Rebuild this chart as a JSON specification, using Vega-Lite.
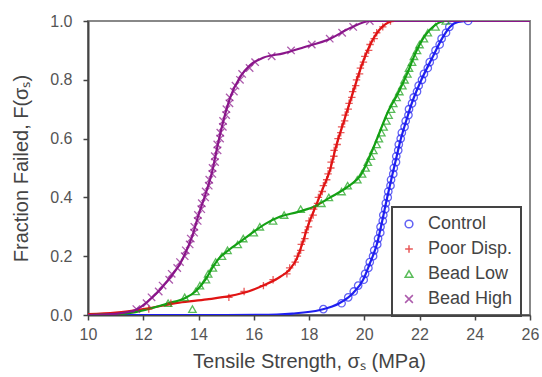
{
  "$schema": "https://vega.github.io/schema/vega-lite/v6.json",
  "width": 442,
  "height": 294,
  "autosize": {"type": "none"},
  "padding": {"left": 88, "top": 21, "right": 12, "bottom": 62},
  "background": "white",
  "config": {
    "font": "Liberation Sans",
    "view": {"stroke": "#888", "strokeWidth": 2},
    "axis": {"domainColor": "#444", "domainWidth": 2, "tickColor": "#444", "tickWidth": 1.5, "tickSize": 5, "labelFontSize": 16, "labelColor": "#555", "labelFlush": false, "titleFontSize": 20, "titleFontWeight": "normal", "titleColor": "#444", "grid": false},
    "legend": {"orient": "none", "legendX": 304, "legendY": 186, "strokeColor": "#444", "strokeWidth": 2, "padding": 8, "labelFontSize": 18, "labelColor": "#444", "symbolSize": 60, "symbolStrokeWidth": 1.5, "rowPadding": 7, "labelOffset": 10}
  },
  "datasets": {
    "curves": [
      {"s": "Control", "x": 10, "F": 0}, {"s": "Control", "x": 15, "F": 0}, {"s": "Control", "x": 16.2, "F": 0.0005}, {"s": "Control", "x": 17.4, "F": 0.005}, {"s": "Control", "x": 18.4, "F": 0.017}, {"s": "Control", "x": 19.1, "F": 0.04}, {"s": "Control", "x": 19.6, "F": 0.075}, {"s": "Control", "x": 19.96, "F": 0.12}, {"s": "Control", "x": 20.21, "F": 0.177}, {"s": "Control", "x": 20.47, "F": 0.245}, {"s": "Control", "x": 20.65, "F": 0.32}, {"s": "Control", "x": 20.83, "F": 0.4}, {"s": "Control", "x": 21.0, "F": 0.47}, {"s": "Control", "x": 21.15, "F": 0.53}, {"s": "Control", "x": 21.3, "F": 0.59}, {"s": "Control", "x": 21.55, "F": 0.67}, {"s": "Control", "x": 21.7, "F": 0.715}, {"s": "Control", "x": 22.02, "F": 0.79}, {"s": "Control", "x": 22.49, "F": 0.88}, {"s": "Control", "x": 22.85, "F": 0.946}, {"s": "Control", "x": 23.1, "F": 0.98}, {"s": "Control", "x": 23.4, "F": 0.997}, {"s": "Control", "x": 23.8, "F": 1.0}, {"s": "Control", "x": 26, "F": 1.0},
      {"s": "Poor Disp.", "x": 10, "F": 0.003}, {"s": "Poor Disp.", "x": 11, "F": 0.008}, {"s": "Poor Disp.", "x": 12, "F": 0.02}, {"s": "Poor Disp.", "x": 13.3, "F": 0.042}, {"s": "Poor Disp.", "x": 14.3, "F": 0.053}, {"s": "Poor Disp.", "x": 15.15, "F": 0.065}, {"s": "Poor Disp.", "x": 15.8, "F": 0.08}, {"s": "Poor Disp.", "x": 16.34, "F": 0.1}, {"s": "Poor Disp.", "x": 16.96, "F": 0.13}, {"s": "Poor Disp.", "x": 17.3, "F": 0.155}, {"s": "Poor Disp.", "x": 17.55, "F": 0.19}, {"s": "Poor Disp.", "x": 17.75, "F": 0.24}, {"s": "Poor Disp.", "x": 17.95, "F": 0.3}, {"s": "Poor Disp.", "x": 18.2, "F": 0.36}, {"s": "Poor Disp.", "x": 18.5, "F": 0.43}, {"s": "Poor Disp.", "x": 18.75, "F": 0.49}, {"s": "Poor Disp.", "x": 19.0, "F": 0.58}, {"s": "Poor Disp.", "x": 19.3, "F": 0.67}, {"s": "Poor Disp.", "x": 19.6, "F": 0.76}, {"s": "Poor Disp.", "x": 19.95, "F": 0.86}, {"s": "Poor Disp.", "x": 20.3, "F": 0.935}, {"s": "Poor Disp.", "x": 20.65, "F": 0.98}, {"s": "Poor Disp.", "x": 21.1, "F": 1.0}, {"s": "Poor Disp.", "x": 26, "F": 1.0},
      {"s": "Bead Low", "x": 10, "F": 0}, {"s": "Bead Low", "x": 11, "F": 0.002}, {"s": "Bead Low", "x": 11.72, "F": 0.01}, {"s": "Bead Low", "x": 12.91, "F": 0.04}, {"s": "Bead Low", "x": 13.52, "F": 0.058}, {"s": "Bead Low", "x": 13.89, "F": 0.08}, {"s": "Bead Low", "x": 14.25, "F": 0.12}, {"s": "Bead Low", "x": 14.5, "F": 0.16}, {"s": "Bead Low", "x": 14.72, "F": 0.19}, {"s": "Bead Low", "x": 15.08, "F": 0.22}, {"s": "Bead Low", "x": 15.59, "F": 0.255}, {"s": "Bead Low", "x": 15.95, "F": 0.28}, {"s": "Bead Low", "x": 16.42, "F": 0.31}, {"s": "Bead Low", "x": 16.96, "F": 0.335}, {"s": "Bead Low", "x": 17.58, "F": 0.35}, {"s": "Bead Low", "x": 18.15, "F": 0.367}, {"s": "Bead Low", "x": 18.77, "F": 0.4}, {"s": "Bead Low", "x": 19.38, "F": 0.435}, {"s": "Bead Low", "x": 19.9, "F": 0.48}, {"s": "Bead Low", "x": 20.25, "F": 0.55}, {"s": "Bead Low", "x": 20.55, "F": 0.62}, {"s": "Bead Low", "x": 20.85, "F": 0.69}, {"s": "Bead Low", "x": 21.2, "F": 0.75}, {"s": "Bead Low", "x": 21.55, "F": 0.82}, {"s": "Bead Low", "x": 21.85, "F": 0.89}, {"s": "Bead Low", "x": 22.2, "F": 0.95}, {"s": "Bead Low", "x": 22.55, "F": 0.985}, {"s": "Bead Low", "x": 22.95, "F": 1.0}, {"s": "Bead Low", "x": 26, "F": 1.0},
      {"s": "Bead High", "x": 10, "F": 0}, {"s": "Bead High", "x": 11, "F": 0.004}, {"s": "Bead High", "x": 11.72, "F": 0.017}, {"s": "Bead High", "x": 12.33, "F": 0.06}, {"s": "Bead High", "x": 12.91, "F": 0.12}, {"s": "Bead High", "x": 13.42, "F": 0.19}, {"s": "Bead High", "x": 13.78, "F": 0.27}, {"s": "Bead High", "x": 14.0, "F": 0.34}, {"s": "Bead High", "x": 14.25, "F": 0.41}, {"s": "Bead High", "x": 14.5, "F": 0.49}, {"s": "Bead High", "x": 14.7, "F": 0.58}, {"s": "Bead High", "x": 14.9, "F": 0.66}, {"s": "Bead High", "x": 15.15, "F": 0.74}, {"s": "Bead High", "x": 15.51, "F": 0.81}, {"s": "Bead High", "x": 15.87, "F": 0.85}, {"s": "Bead High", "x": 16.34, "F": 0.875}, {"s": "Bead High", "x": 17.07, "F": 0.89}, {"s": "Bead High", "x": 17.79, "F": 0.91}, {"s": "Bead High", "x": 18.77, "F": 0.94}, {"s": "Bead High", "x": 19.49, "F": 0.976}, {"s": "Bead High", "x": 20.22, "F": 1.0}, {"s": "Bead High", "x": 26, "F": 1.0}
    ],
    "points": [
      {"s": "Control", "x": 18.52, "F": 0.02}, {"s": "Control", "x": 19.18, "F": 0.04}, {"s": "Control", "x": 19.42, "F": 0.06}, {"s": "Control", "x": 19.62, "F": 0.08}, {"s": "Control", "x": 19.78, "F": 0.1}, {"s": "Control", "x": 19.98, "F": 0.12}, {"s": "Control", "x": 20.03, "F": 0.14}, {"s": "Control", "x": 20.15, "F": 0.16}, {"s": "Control", "x": 20.2, "F": 0.18}, {"s": "Control", "x": 20.32, "F": 0.2}, {"s": "Control", "x": 20.36, "F": 0.22}, {"s": "Control", "x": 20.47, "F": 0.24}, {"s": "Control", "x": 20.5, "F": 0.26}, {"s": "Control", "x": 20.58, "F": 0.28}, {"s": "Control", "x": 20.59, "F": 0.3}, {"s": "Control", "x": 20.67, "F": 0.32}, {"s": "Control", "x": 20.69, "F": 0.34}, {"s": "Control", "x": 20.76, "F": 0.36}, {"s": "Control", "x": 20.78, "F": 0.38}, {"s": "Control", "x": 20.85, "F": 0.4}, {"s": "Control", "x": 20.87, "F": 0.42}, {"s": "Control", "x": 20.95, "F": 0.44}, {"s": "Control", "x": 20.97, "F": 0.46}, {"s": "Control", "x": 21.05, "F": 0.48}, {"s": "Control", "x": 21.07, "F": 0.5}, {"s": "Control", "x": 21.15, "F": 0.52}, {"s": "Control", "x": 21.16, "F": 0.54}, {"s": "Control", "x": 21.23, "F": 0.56}, {"s": "Control", "x": 21.25, "F": 0.58}, {"s": "Control", "x": 21.32, "F": 0.6}, {"s": "Control", "x": 21.36, "F": 0.62}, {"s": "Control", "x": 21.46, "F": 0.64}, {"s": "Control", "x": 21.5, "F": 0.66}, {"s": "Control", "x": 21.6, "F": 0.68}, {"s": "Control", "x": 21.62, "F": 0.7}, {"s": "Control", "x": 21.73, "F": 0.72}, {"s": "Control", "x": 21.79, "F": 0.74}, {"s": "Control", "x": 21.91, "F": 0.76}, {"s": "Control", "x": 21.97, "F": 0.78}, {"s": "Control", "x": 22.09, "F": 0.8}, {"s": "Control", "x": 22.16, "F": 0.82}, {"s": "Control", "x": 22.3, "F": 0.84}, {"s": "Control", "x": 22.37, "F": 0.86}, {"s": "Control", "x": 22.51, "F": 0.88}, {"s": "Control", "x": 22.58, "F": 0.9}, {"s": "Control", "x": 22.73, "F": 0.92}, {"s": "Control", "x": 22.8, "F": 0.94}, {"s": "Control", "x": 22.96, "F": 0.96}, {"s": "Control", "x": 23.08, "F": 0.98}, {"s": "Control", "x": 23.76, "F": 1.0},
      {"s": "Poor Disp.", "x": 12.2, "F": 0.02}, {"s": "Poor Disp.", "x": 13.0, "F": 0.04}, {"s": "Poor Disp.", "x": 15.1, "F": 0.06}, {"s": "Poor Disp.", "x": 15.65, "F": 0.08}, {"s": "Poor Disp.", "x": 16.35, "F": 0.1}, {"s": "Poor Disp.", "x": 16.7, "F": 0.12}, {"s": "Poor Disp.", "x": 17.2, "F": 0.14}, {"s": "Poor Disp.", "x": 17.3, "F": 0.16}, {"s": "Poor Disp.", "x": 17.5, "F": 0.18}, {"s": "Poor Disp.", "x": 17.58, "F": 0.2}, {"s": "Poor Disp.", "x": 17.7, "F": 0.22}, {"s": "Poor Disp.", "x": 17.72, "F": 0.24}, {"s": "Poor Disp.", "x": 17.85, "F": 0.26}, {"s": "Poor Disp.", "x": 17.86, "F": 0.28}, {"s": "Poor Disp.", "x": 17.98, "F": 0.3}, {"s": "Poor Disp.", "x": 18.0, "F": 0.32}, {"s": "Poor Disp.", "x": 18.15, "F": 0.34}, {"s": "Poor Disp.", "x": 18.17, "F": 0.36}, {"s": "Poor Disp.", "x": 18.31, "F": 0.38}, {"s": "Poor Disp.", "x": 18.34, "F": 0.4}, {"s": "Poor Disp.", "x": 18.48, "F": 0.42}, {"s": "Poor Disp.", "x": 18.52, "F": 0.44}, {"s": "Poor Disp.", "x": 18.64, "F": 0.46}, {"s": "Poor Disp.", "x": 18.69, "F": 0.48}, {"s": "Poor Disp.", "x": 18.79, "F": 0.5}, {"s": "Poor Disp.", "x": 18.8, "F": 0.52}, {"s": "Poor Disp.", "x": 18.9, "F": 0.54}, {"s": "Poor Disp.", "x": 18.91, "F": 0.56}, {"s": "Poor Disp.", "x": 19.02, "F": 0.58}, {"s": "Poor Disp.", "x": 19.05, "F": 0.6}, {"s": "Poor Disp.", "x": 19.15, "F": 0.62}, {"s": "Poor Disp.", "x": 19.18, "F": 0.64}, {"s": "Poor Disp.", "x": 19.29, "F": 0.66}, {"s": "Poor Disp.", "x": 19.31, "F": 0.68}, {"s": "Poor Disp.", "x": 19.42, "F": 0.7}, {"s": "Poor Disp.", "x": 19.45, "F": 0.72}, {"s": "Poor Disp.", "x": 19.55, "F": 0.74}, {"s": "Poor Disp.", "x": 19.58, "F": 0.76}, {"s": "Poor Disp.", "x": 19.69, "F": 0.78}, {"s": "Poor Disp.", "x": 19.72, "F": 0.8}, {"s": "Poor Disp.", "x": 19.83, "F": 0.82}, {"s": "Poor Disp.", "x": 19.86, "F": 0.84}, {"s": "Poor Disp.", "x": 19.97, "F": 0.86}, {"s": "Poor Disp.", "x": 20.02, "F": 0.88}, {"s": "Poor Disp.", "x": 20.16, "F": 0.9}, {"s": "Poor Disp.", "x": 20.21, "F": 0.92}, {"s": "Poor Disp.", "x": 20.36, "F": 0.94}, {"s": "Poor Disp.", "x": 20.45, "F": 0.96}, {"s": "Poor Disp.", "x": 20.67, "F": 0.98}, {"s": "Poor Disp.", "x": 20.95, "F": 1.0},
      {"s": "Bead Low", "x": 13.78, "F": 0.02}, {"s": "Bead Low", "x": 12.9, "F": 0.04}, {"s": "Bead Low", "x": 13.5, "F": 0.06}, {"s": "Bead Low", "x": 13.9, "F": 0.08}, {"s": "Bead Low", "x": 14.05, "F": 0.1}, {"s": "Bead Low", "x": 14.27, "F": 0.12}, {"s": "Bead Low", "x": 14.35, "F": 0.14}, {"s": "Bead Low", "x": 14.52, "F": 0.16}, {"s": "Bead Low", "x": 14.62, "F": 0.18}, {"s": "Bead Low", "x": 14.85, "F": 0.2}, {"s": "Bead Low", "x": 15.05, "F": 0.22}, {"s": "Bead Low", "x": 15.42, "F": 0.24}, {"s": "Bead Low", "x": 15.62, "F": 0.26}, {"s": "Bead Low", "x": 16.0, "F": 0.28}, {"s": "Bead Low", "x": 16.22, "F": 0.3}, {"s": "Bead Low", "x": 16.7, "F": 0.32}, {"s": "Bead Low", "x": 17.1, "F": 0.34}, {"s": "Bead Low", "x": 17.7, "F": 0.36}, {"s": "Bead Low", "x": 18.45, "F": 0.38}, {"s": "Bead Low", "x": 18.72, "F": 0.4}, {"s": "Bead Low", "x": 19.18, "F": 0.42}, {"s": "Bead Low", "x": 19.4, "F": 0.44}, {"s": "Bead Low", "x": 19.75, "F": 0.46}, {"s": "Bead Low", "x": 19.92, "F": 0.48}, {"s": "Bead Low", "x": 20.05, "F": 0.5}, {"s": "Bead Low", "x": 20.13, "F": 0.52}, {"s": "Bead Low", "x": 20.24, "F": 0.54}, {"s": "Bead Low", "x": 20.33, "F": 0.56}, {"s": "Bead Low", "x": 20.45, "F": 0.58}, {"s": "Bead Low", "x": 20.53, "F": 0.6}, {"s": "Bead Low", "x": 20.62, "F": 0.62}, {"s": "Bead Low", "x": 20.7, "F": 0.64}, {"s": "Bead Low", "x": 20.8, "F": 0.66}, {"s": "Bead Low", "x": 20.88, "F": 0.68}, {"s": "Bead Low", "x": 20.97, "F": 0.7}, {"s": "Bead Low", "x": 21.05, "F": 0.72}, {"s": "Bead Low", "x": 21.17, "F": 0.74}, {"s": "Bead Low", "x": 21.27, "F": 0.76}, {"s": "Bead Low", "x": 21.38, "F": 0.78}, {"s": "Bead Low", "x": 21.46, "F": 0.8}, {"s": "Bead Low", "x": 21.56, "F": 0.82}, {"s": "Bead Low", "x": 21.62, "F": 0.84}, {"s": "Bead Low", "x": 21.73, "F": 0.86}, {"s": "Bead Low", "x": 21.8, "F": 0.88}, {"s": "Bead Low", "x": 21.91, "F": 0.9}, {"s": "Bead Low", "x": 22.0, "F": 0.92}, {"s": "Bead Low", "x": 22.16, "F": 0.94}, {"s": "Bead Low", "x": 22.3, "F": 0.96}, {"s": "Bead Low", "x": 22.58, "F": 0.98}, {"s": "Bead Low", "x": 22.95, "F": 1.0},
      {"s": "Bead High", "x": 11.75, "F": 0.02}, {"s": "Bead High", "x": 12.12, "F": 0.04}, {"s": "Bead High", "x": 12.3, "F": 0.06}, {"s": "Bead High", "x": 12.56, "F": 0.08}, {"s": "Bead High", "x": 12.7, "F": 0.1}, {"s": "Bead High", "x": 12.94, "F": 0.12}, {"s": "Bead High", "x": 13.03, "F": 0.14}, {"s": "Bead High", "x": 13.23, "F": 0.16}, {"s": "Bead High", "x": 13.33, "F": 0.18}, {"s": "Bead High", "x": 13.5, "F": 0.2}, {"s": "Bead High", "x": 13.54, "F": 0.22}, {"s": "Bead High", "x": 13.68, "F": 0.24}, {"s": "Bead High", "x": 13.72, "F": 0.26}, {"s": "Bead High", "x": 13.84, "F": 0.28}, {"s": "Bead High", "x": 13.85, "F": 0.3}, {"s": "Bead High", "x": 13.97, "F": 0.32}, {"s": "Bead High", "x": 13.98, "F": 0.34}, {"s": "Bead High", "x": 14.1, "F": 0.36}, {"s": "Bead High", "x": 14.12, "F": 0.38}, {"s": "Bead High", "x": 14.24, "F": 0.4}, {"s": "Bead High", "x": 14.26, "F": 0.42}, {"s": "Bead High", "x": 14.37, "F": 0.44}, {"s": "Bead High", "x": 14.39, "F": 0.46}, {"s": "Bead High", "x": 14.5, "F": 0.48}, {"s": "Bead High", "x": 14.51, "F": 0.5}, {"s": "Bead High", "x": 14.6, "F": 0.52}, {"s": "Bead High", "x": 14.59, "F": 0.54}, {"s": "Bead High", "x": 14.69, "F": 0.56}, {"s": "Bead High", "x": 14.68, "F": 0.58}, {"s": "Bead High", "x": 14.78, "F": 0.6}, {"s": "Bead High", "x": 14.79, "F": 0.62}, {"s": "Bead High", "x": 14.88, "F": 0.64}, {"s": "Bead High", "x": 14.89, "F": 0.66}, {"s": "Bead High", "x": 15.0, "F": 0.68}, {"s": "Bead High", "x": 15.01, "F": 0.7}, {"s": "Bead High", "x": 15.12, "F": 0.72}, {"s": "Bead High", "x": 15.13, "F": 0.74}, {"s": "Bead High", "x": 15.28, "F": 0.76}, {"s": "Bead High", "x": 15.34, "F": 0.78}, {"s": "Bead High", "x": 15.5, "F": 0.8}, {"s": "Bead High", "x": 15.58, "F": 0.82}, {"s": "Bead High", "x": 15.85, "F": 0.84}, {"s": "Bead High", "x": 16.05, "F": 0.86}, {"s": "Bead High", "x": 16.65, "F": 0.88}, {"s": "Bead High", "x": 17.35, "F": 0.9}, {"s": "Bead High", "x": 18.1, "F": 0.92}, {"s": "Bead High", "x": 18.75, "F": 0.94}, {"s": "Bead High", "x": 19.2, "F": 0.96}, {"s": "Bead High", "x": 19.6, "F": 0.98}, {"s": "Bead High", "x": 20.2, "F": 1.0}
    ]
  },
  "layer": [
    {
      "data": {"name": "curves"},
      "mark": {"type": "line", "interpolate": "monotone", "strokeWidth": 2.2, "clip": true},
      "encoding": {
        "x": {"field": "x", "type": "quantitative", "scale": {"domain": [10, 26], "nice": false}, "axis": {"title": "Tensile Strength, σₛ (MPa)", "values": [10, 11, 12, 13, 14, 15, 16, 17, 18, 19, 20, 21, 22, 23, 24, 25, 26], "labelExpr": "datum.value % 2 == 0 ? datum.label : ''", "labelPadding": 6, "titlePadding": 9}},
        "y": {"field": "F", "type": "quantitative", "scale": {"domain": [0, 1], "nice": false}, "axis": {"title": "Fraction Failed, F(σₛ)", "values": [0, 0.1, 0.2, 0.3, 0.4, 0.5, 0.6, 0.7, 0.8, 0.9, 1.0], "labelExpr": "round(datum.value * 10) % 2 == 0 ? format(datum.value, '.1f') : ''", "labelPadding": 11, "titlePadding": 18}},
        "color": {"field": "s", "type": "nominal", "scale": {"domain": ["Control", "Poor Disp.", "Bead Low", "Bead High"], "range": ["#1f1ff0", "#e01414", "#14a014", "#8a168a"]}},
        "detail": {"field": "s"}
      }
    },
    {
      "data": {"name": "points"},
      "mark": {"type": "point", "filled": false, "strokeWidth": 1.3, "size": 55, "clip": true},
      "encoding": {
        "x": {"field": "x", "type": "quantitative"},
        "y": {"field": "F", "type": "quantitative"},
        "color": {"field": "s", "type": "nominal", "title": null},
        "shape": {"field": "s", "type": "nominal", "title": null, "scale": {"domain": ["Control", "Poor Disp.", "Bead Low", "Bead High"], "range": ["circle", "M-1,0L1,0M0,-1L0,1", "triangle-up", "M-1,-1L1,1M-1,1L1,-1"]}}
      }
    }
  ]
}
